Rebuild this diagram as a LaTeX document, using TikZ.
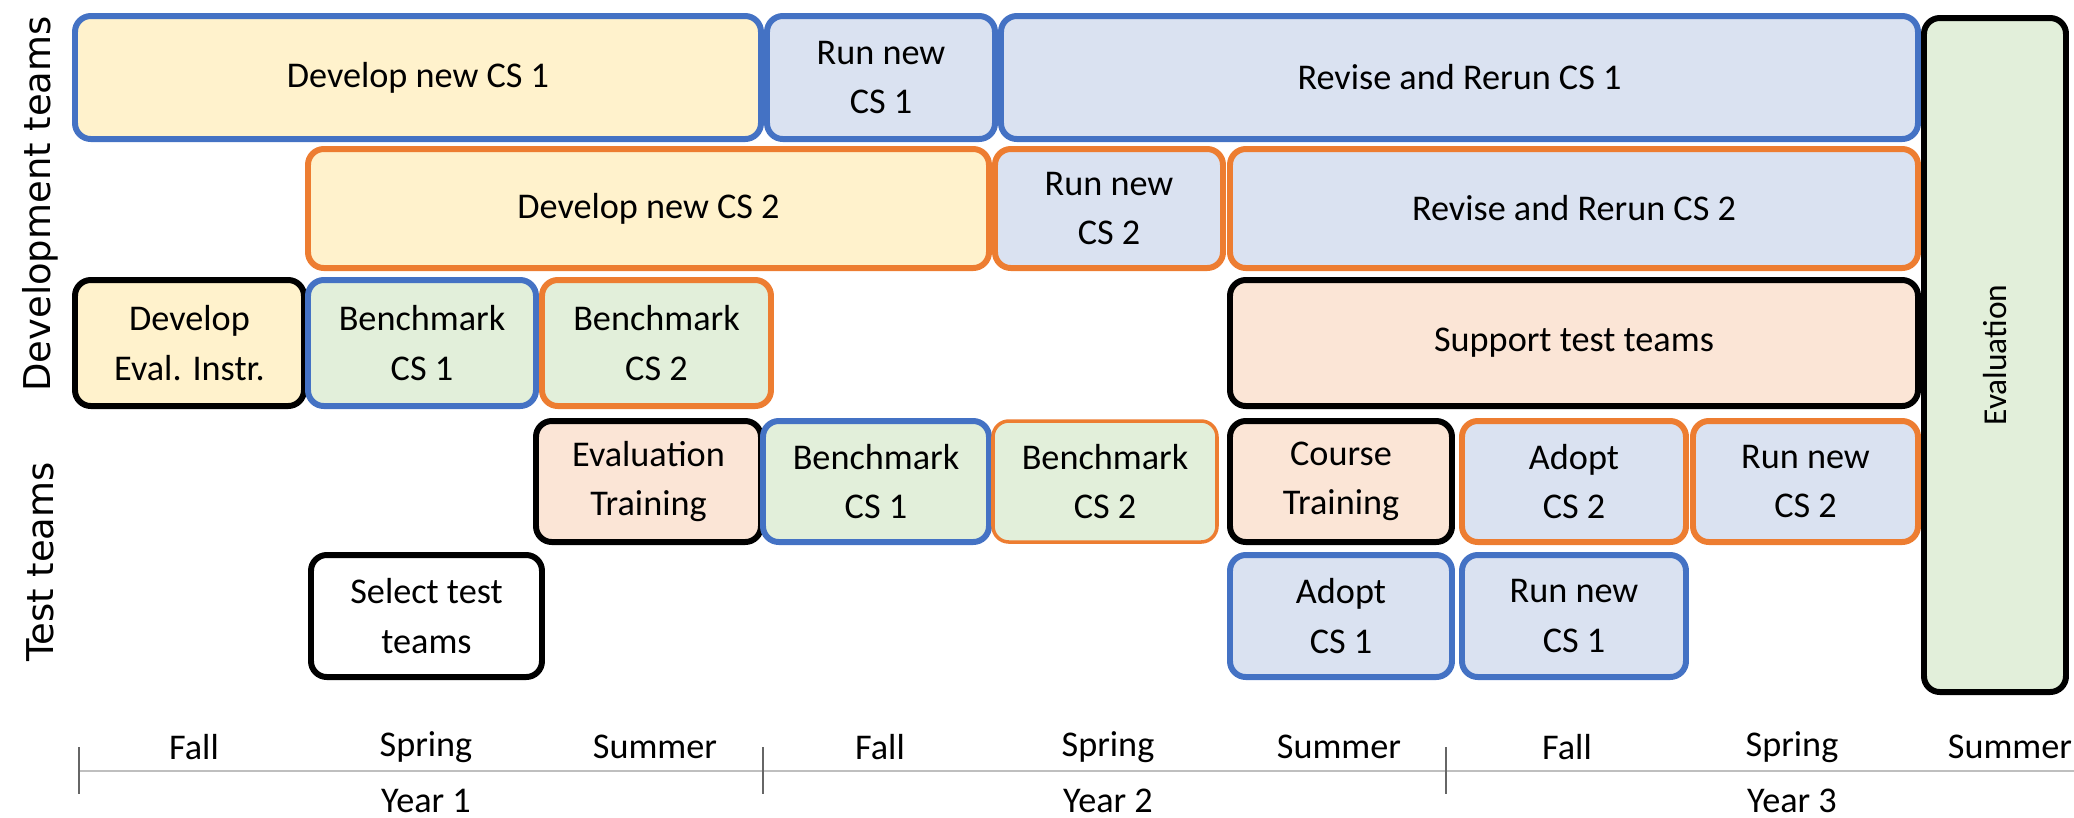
\documentclass[tikz,border=0pt]{standalone}
\usepackage{fontspec}
\setmainfont{Carlito}
\newfontfamily\axisfont{DejaVu Sans}

\definecolor{cream}{HTML}{FFF2CC}
\definecolor{paleblue}{HTML}{DAE2F1}
\definecolor{palegreen}{HTML}{E2EFDA}
\definecolor{peach}{HTML}{FBE5D6}
\definecolor{csoneline}{HTML}{4472C4}
\definecolor{cstwoline}{HTML}{ED7D31}

\tikzset{
  task/.style={draw, rounded corners=4.5pt, line width=1.7pt, align=center,
    inner sep=0pt, font=\fontsize{10.3}{14}\selectfont},
  csone/.style={task, draw=csoneline},
  cstwo/.style={task, draw=cstwoline},
  plain/.style={task, draw=black},
  axisline/.style={draw=black!25, line width=0.8pt},
  tick/.style={draw=black!60, line width=0.8pt},
  season/.style={font=\fontsize{10.3}{12}\selectfont}
}

% name, style, left, top, right, bottom, text
\newcommand{\plantask}[7]{%
  \node[#2, minimum width={(#5-#3)*0.01cm}, minimum height={(#6-#4)*0.01cm}]
    (#1) at ({(#3+#5)/2},{(#4+#6)/2}) {#7};}

\begin{document}
\begin{tikzpicture}[x=0.01cm, y=-0.01cm]
\useasboundingbox (0,0) rectangle (2074,817);

% development teams
\plantask{devone}{csone, fill=cream}{75}{16}{761}{139}{Develop new CS 1}
\plantask{runone}{csone, fill=paleblue}{767}{16}{995}{139}{Run new\\CS 1}
\plantask{revone}{csone, fill=paleblue}{1001}{16}{1918}{139}{Revise and Rerun CS 1}
\plantask{devtwo}{cstwo, fill=cream}{308}{149}{989}{268}{Develop new CS 2}
\plantask{runtwo}{cstwo, fill=paleblue}{995}{149}{1223}{268}{Run new\\CS 2}
\plantask{revtwo}{cstwo, fill=paleblue}{1230}{149}{1918}{268}{Revise and Rerun CS 2}
\plantask{instr}{plain, fill=cream}{75}{280}{304}{406}{Develop\\Eval. Instr.}
\plantask{benchonea}{csone, fill=palegreen}{308}{280}{536}{406}{Benchmark\\CS 1}
\plantask{benchtwoa}{cstwo, fill=palegreen}{542}{280}{771}{406}{Benchmark\\CS 2}
\plantask{support}{plain, fill=peach}{1230}{280}{1918}{406}{Support test teams}

% test teams
\plantask{evaltrain}{plain, fill=peach}{536}{421}{761}{542}{Evaluation\\Training}
\plantask{benchoneb}{csone, fill=palegreen}{763}{421}{989}{542}{Benchmark\\CS 1}
\plantask{benchtwob}{cstwo, line width=1pt, fill=palegreen}{993}{421}{1217}{542}{Benchmark\\CS 2}
\plantask{course}{plain, fill=peach}{1230}{421}{1452}{542}{Course\\Training}
\plantask{adopttwo}{cstwo, fill=paleblue}{1462}{421}{1686}{542}{Adopt\\CS 2}
\plantask{runnewtwo}{cstwo, fill=paleblue}{1693}{421}{1918}{542}{Run new\\CS 2}
\plantask{select}{plain, fill=white}{311}{555}{542}{677}{Select test\\teams}
\plantask{adoptone}{csone, fill=paleblue}{1230}{555}{1452}{677}{Adopt\\CS 1}
\plantask{runnewone}{csone, fill=paleblue}{1462}{555}{1686}{677}{Run new\\CS 1}

\plantask{evaluation}{plain, fill=palegreen}{1924}{18}{2066}{692}%
  {\rotatebox{90}{\fontsize{9.5}{11}\selectfont Evaluation}}

% row labels
\node[rotate=90, font=\axisfont\fontsize{10.5}{12}\selectfont] (devteams) at (40,204) {Development teams};
\node[rotate=90, font=\axisfont\fontsize{10.5}{12}\selectfont] (testteams) at (40,562) {Test teams};

% time axis
\coordinate (axisleft) at (79,771);
\coordinate (axisright) at (2074,771);
\draw[axisline] (axisleft) -- (axisright);
\foreach \x [count=\i] in {79,763,1446}
  \draw[tick] (\x,747) coordinate (tictop\i) -- (\x,794) coordinate (ticbot\i);

\foreach \x/\s [count=\i] in {194/Fall,426/Spring,655/Summer,880/Fall,1108/Spring,
    1339/Summer,1567/Fall,1792/Spring,2010/Summer}
  \node[season] (season\i) at (\x,747) {\s};

\foreach \x/\y [count=\i] in {426/1,1108/2,1792/3}
  \node[season] (year\i) at (\x,801) {Year \y};
\end{tikzpicture}
\end{document}
